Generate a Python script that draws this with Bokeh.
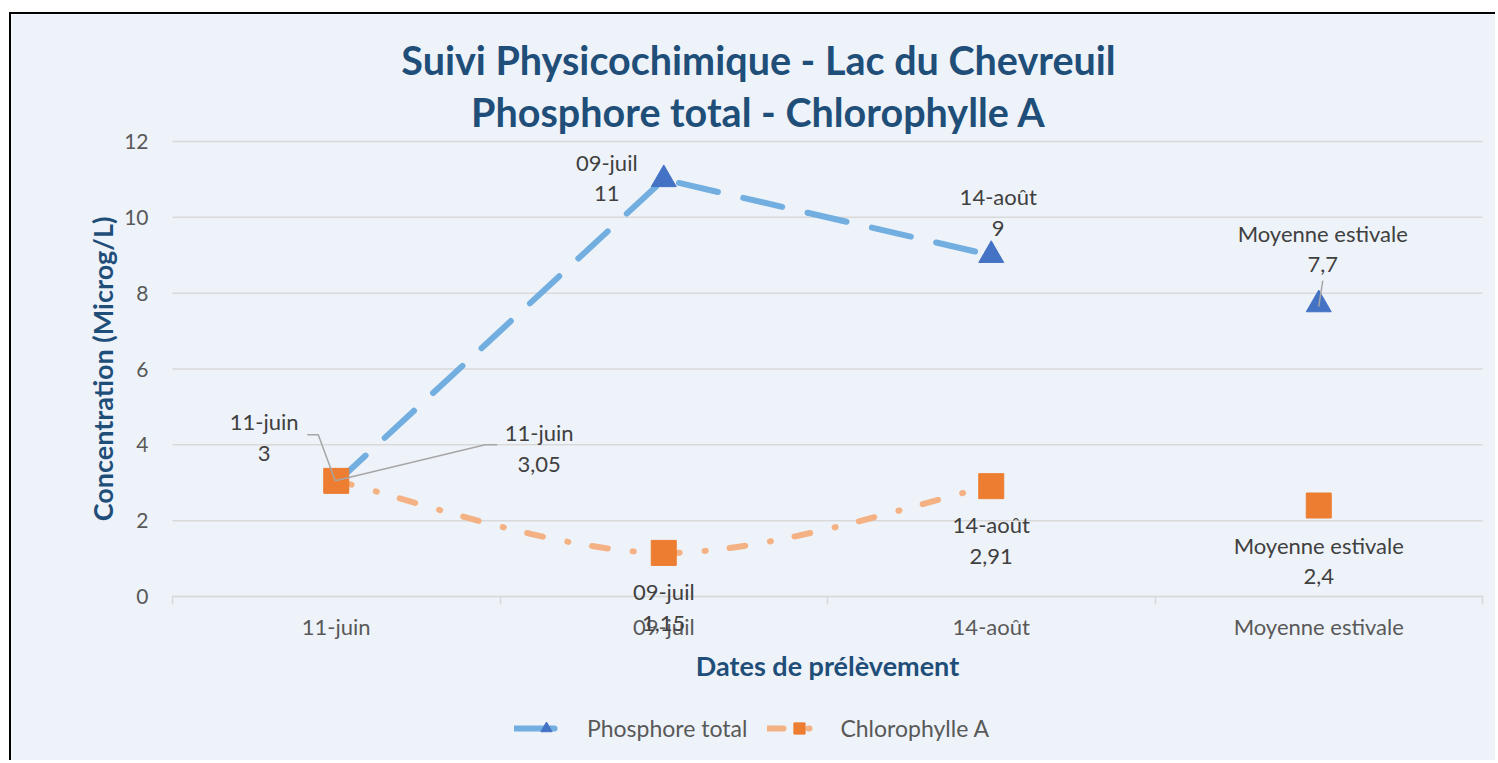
import math
from bokeh.plotting import figure
from bokeh.models import Range1d, FixedTicker, Label, Legend, LegendItem
from bokeh.embed import file_html
from bokeh.resources import INLINE

# ---------------- data ----------------
categories = ["11-juin", "09-juil", "14-août", "Moyenne estivale"]
phosphore = [3, 11, 9, 7.7]
chlorophylle = [3.05, 1.15, 2.91, 2.4]
y_ticks = [0, 2, 4, 6, 8, 10, 12]
series_names = ["Phosphore total", "Chlorophylle A"]
title_lines = ["Suivi Physicochimique - Lac du Chevreuil", "Phosphore total - Chlorophylle A"]
x_title = "Dates de prélèvement"
y_title = "Concentration (Microg/L)"
n_line = 3  # the summer average is not joined to the dated samples

# ---------------- layout (page pixels) ----------------
FONT = "Lato"
BG = "#EEF3FA"
OX, OY = 11, 14                 # top-left of the figure on the page
W, H = 1486, 748
PL, PR, PT, PB = 172, 1482, 141, 596   # plot area (value axis 0..12, 4 category slots)
NX = len(categories)
YMAX = y_ticks[-1]
ppx = (PR - PL) / NX
ppy = (PB - PT) / YMAX

def dx_(sx):   # page x -> data x
    return (sx - PL) / ppx

def dy_(sy):   # page y -> data y
    return (PB - sy) / ppy

xs = [i + 0.5 for i in range(NX)]

p = figure(width=W, height=H,
           x_range=Range1d(dx_(OX), dx_(OX + W)), y_range=Range1d(dy_(OY + H), dy_(OY)),
           output_backend="svg", toolbar_location=None,
           min_border=0, min_border_left=0, min_border_right=0, min_border_top=0, min_border_bottom=0,
           background_fill_color=BG, border_fill_color=BG, outline_line_color=None)
p.margin = (12, 0, 0, 9)
p.styles = {"border-top": "2px solid black", "border-left": "2px solid black"}

# gridlines across the plot area only
p.xgrid.visible = False
p.ygrid.visible = False
p.segment(x0=[0] * len(y_ticks), x1=[NX] * len(y_ticks), y0=y_ticks, y1=y_ticks,
          line_color="#D9D9D9", line_width=1.5)

# axes, pinned at the data origin
p.xaxis.fixed_location = 0
p.xaxis.bounds = (0, NX)
p.xaxis.ticker = FixedTicker(ticks=xs, minor_ticks=list(range(NX + 1)))
p.xaxis.major_label_overrides = {x: c for x, c in zip(xs, categories)}
p.xaxis.axis_line_color = "#D9D9D9"
p.xaxis.axis_line_width = 1.5
p.xaxis.major_tick_line_color = None
p.xaxis.major_tick_out = 0
p.xaxis.major_tick_in = 0
p.xaxis.minor_tick_line_color = "#D9D9D9"
p.xaxis.minor_tick_line_width = 1.5
p.xaxis.minor_tick_out = 8
p.xaxis.minor_tick_in = 0
p.xaxis.major_label_standoff = 8
p.xaxis.major_label_text_font = FONT
p.xaxis.major_label_text_font_size = "22px"
p.xaxis.major_label_text_color = "#595959"
p.xaxis.axis_label = x_title
p.xaxis.axis_label_text_font = FONT
p.xaxis.axis_label_text_font_size = "27px"
p.xaxis.axis_label_text_font_style = "bold"
p.xaxis.axis_label_text_color = "#1F4E79"
p.xaxis.axis_label_standoff = 6

p.yaxis.fixed_location = 0
p.yaxis.bounds = (0, YMAX)
p.yaxis.ticker = FixedTicker(ticks=y_ticks)
p.yaxis.axis_line_color = None
p.yaxis.major_tick_line_color = None
p.yaxis.minor_tick_line_color = None
p.yaxis.major_tick_out = 0
p.yaxis.major_label_standoff = 24
p.yaxis.major_label_text_font = FONT
p.yaxis.major_label_text_font_size = "21px"
p.yaxis.major_label_text_color = "#595959"
p.yaxis.axis_label = y_title
p.yaxis.axis_label_text_font = FONT
p.yaxis.axis_label_text_font_size = "27px"
p.yaxis.axis_label_text_font_style = "bold"
p.yaxis.axis_label_text_color = "#1F4E79"
p.yaxis.axis_label_standoff = 2

# ---------------- series ----------------
BLUE_L, BLUE_M = "#72AEDF", "#4472C4"
ORG_L, ORG_M = "#F4B183", "#ED7D31"
DASH_P = "40 26"
DASH_C = "16 25 1 24"

l_p = p.line(xs[:n_line], phosphore[:n_line], line_color=BLUE_L, line_width=6,
             line_dash=DASH_P, line_cap="round")

# smoothed (Catmull-Rom style) curve for Chlorophylle A
px_ = xs[:n_line]
py_ = chlorophylle[:n_line]
x0s, y0s, x1s, y1s, cx0s, cy0s, cx1s, cy1s = [], [], [], [], [], [], [], []
for i in range(len(px_) - 1):
    im1 = max(i - 1, 0)
    ip2 = min(i + 2, len(px_) - 1)
    x0s.append(px_[i]); y0s.append(py_[i])
    x1s.append(px_[i + 1]); y1s.append(py_[i + 1])
    cx0s.append(px_[i] + (px_[i + 1] - px_[im1]) / 6)
    cy0s.append(py_[i] + (py_[i + 1] - py_[im1]) / 6)
    cx1s.append(px_[i + 1] - (px_[ip2] - px_[i]) / 6)
    cy1s.append(py_[i + 1] - (py_[ip2] - py_[i]) / 6)
p.bezier(x0=x0s, y0=y0s, x1=x1s, y1=y1s, cx0=cx0s, cy0=cy0s, cx1=cx1s, cy1=cy1s,
         line_color=ORG_L, line_width=6, line_dash=DASH_C, line_cap="round")
# stand-in for the legend swatch of the curve (draws nothing itself)
l_c = p.line([math.nan], [math.nan], line_color=ORG_L, line_width=6, line_dash=DASH_C,
             line_cap="round")

m_p = p.scatter(xs, phosphore, marker="triangle", size=25, fill_color=BLUE_M, line_color=BLUE_M)
m_c = p.scatter(xs, chlorophylle, marker="square", size=25, fill_color=ORG_M, line_color=ORG_M)

# ---------------- data labels ----------------
def fmt(v):
    return f"{v:g}".replace(".", ",")

p_label_off = [(-72, -46), (-57, -2), (7, -43), (4, -56)]
c_label_off = [(203, -33), (0, 54), (0, 54), (0, 55)]
for vals, offs in ((phosphore, p_label_off), (chlorophylle, c_label_off)):
    for i, v in enumerate(vals):
        dx, dy = offs[i]
        p.add_layout(Label(x=xs[i], y=v, x_offset=dx, y_offset=-dy,
                           text=f"{categories[i]}\n{fmt(v)}",
                           text_align="center", text_baseline="middle",
                           text_font=FONT, text_font_size="22px", text_color="#404040",
                           text_line_height=1.14))

# leader lines (pixel offsets from the point they belong to)
leaders = [
    (0, phosphore[0], [(-29, -48), (-18, -48), (-1, -2)]),
    (0, chlorophylle[0], [(161, -36), (149, -36), (-1, 0)]),
    (3, phosphore[3], [(4, -24), (0, 2)]),
]
for i, v, pts in leaders:
    p.line([xs[i] + dx / ppx for dx, dy in pts], [v - dy / ppy for dx, dy in pts],
           line_color="#A6A6A6", line_width=1.5)

# ---------------- titles ----------------
for t, ty in zip(title_lines, [59, 111]):
    p.add_layout(Label(x=dx_(758), y=dy_(ty), text=t,
                       text_align="center", text_baseline="middle",
                       text_font=FONT, text_font_size="39.5px", text_font_style="bold",
                       text_color="#1F4E79"))

# ---------------- legend ----------------
legend = Legend(items=[LegendItem(label=series_names[0], renderers=[l_p, m_p]),
                       LegendItem(label=series_names[1], renderers=[l_c, m_c])],
                orientation="horizontal", location=(514 - OX, (OY + H) - 742),
                glyph_width=64, glyph_height=28, label_height=28, label_standoff=9, spacing=20,
                label_text_font=FONT, label_text_font_size="23px", label_text_color="#595959",
                background_fill_alpha=0, border_line_color=None, padding=0, margin=0,
                inactive_fill_alpha=0)
p.add_layout(legend)

open("out.html", "w").write(file_html(p, INLINE))
